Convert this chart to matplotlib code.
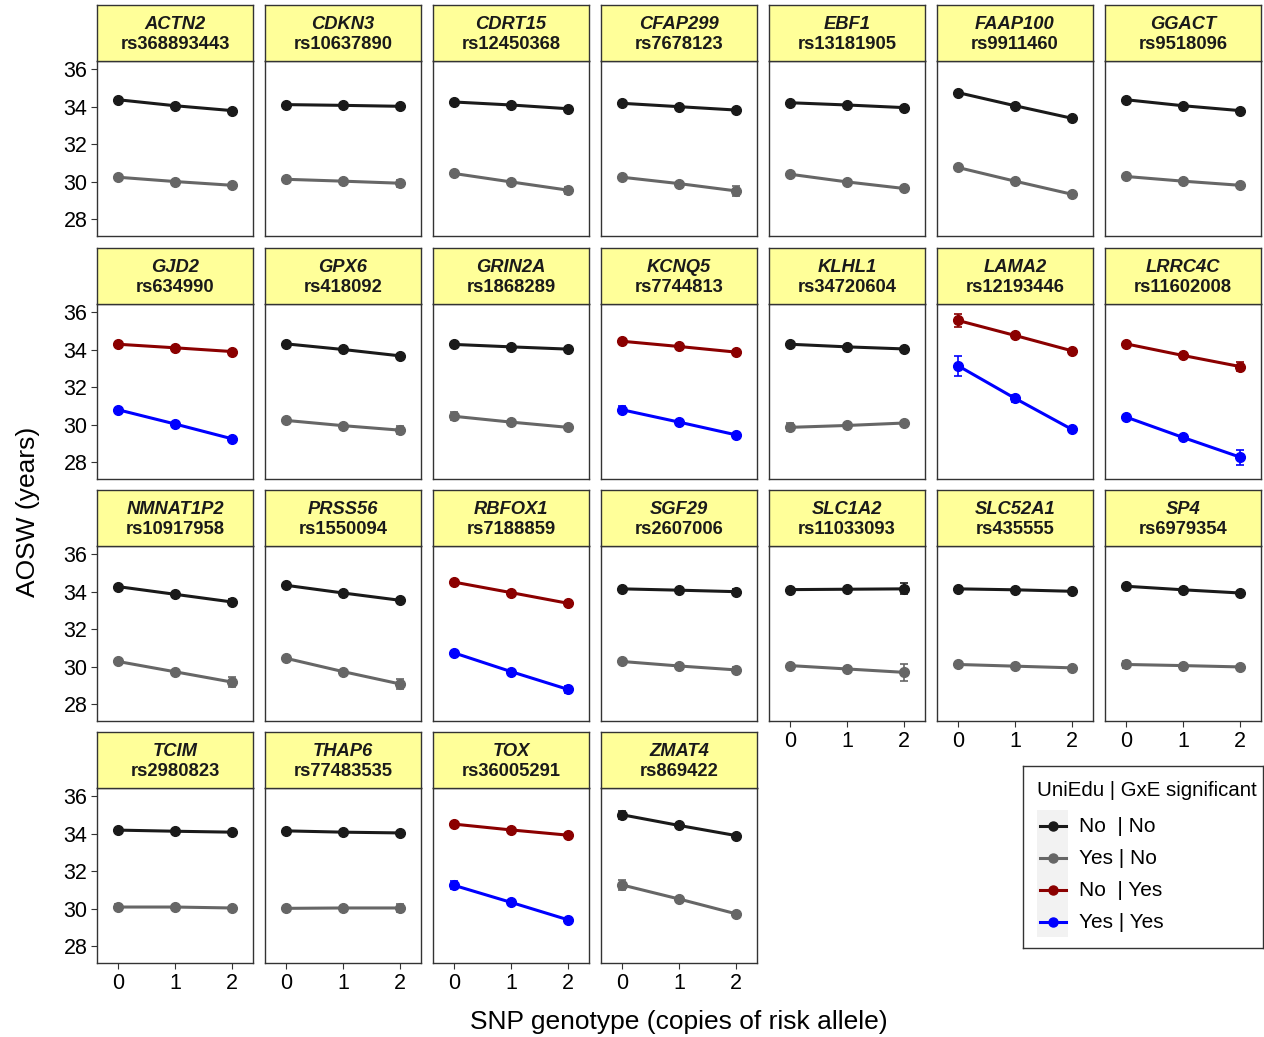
import matplotlib
matplotlib.use("Agg")
from matplotlib import pyplot as plt
from matplotlib.patches import Rectangle

plt.rcParams['font.family'] = ['Liberation Sans', 'DejaVu Sans']

genes = ['ACTN2', 'CDKN3', 'CDRT15', 'CFAP299', 'EBF1', 'FAAP100', 'GGACT',
         'GJD2', 'GPX6', 'GRIN2A', 'KCNQ5', 'KLHL1', 'LAMA2', 'LRRC4C',
         'NMNAT1P2', 'PRSS56', 'RBFOX1', 'SGF29', 'SLC1A2', 'SLC52A1', 'SP4',
         'TCIM', 'THAP6', 'TOX', 'ZMAT4']
rsids = ['rs368893443', 'rs10637890', 'rs12450368', 'rs7678123', 'rs13181905', 'rs9911460', 'rs9518096',
         'rs634990', 'rs418092', 'rs1868289', 'rs7744813', 'rs34720604', 'rs12193446', 'rs11602008',
         'rs10917958', 'rs1550094', 'rs7188859', 'rs2607006', 'rs11033093', 'rs435555', 'rs6979354',
         'rs2980823', 'rs77483535', 'rs36005291', 'rs869422']
# GxE significant?
gxe_sig = [False, False, False, False, False, False, False,
           True, False, False, True, False, True, True,
           False, False, True, False, False, False, False,
           False, False, True, False]

genotype = [0, 1, 2]

# UniEdu = No
no_mean = [[34.38, 34.06, 33.80], [34.12, 34.08, 34.03], [34.26, 34.10, 33.90], [34.19, 34.01, 33.83],
           [34.22, 34.10, 33.96], [34.76, 34.06, 33.39], [34.38, 34.06, 33.80],
           [34.30, 34.11, 33.91], [34.32, 34.02, 33.68], [34.29, 34.16, 34.04], [34.46, 34.18, 33.88],
           [34.30, 34.16, 34.05], [35.57, 34.77, 33.95], [34.32, 33.70, 33.11],
           [34.28, 33.87, 33.46], [34.35, 33.94, 33.55], [34.52, 33.96, 33.39], [34.16, 34.09, 34.01],
           [34.12, 34.14, 34.16], [34.16, 34.11, 34.03], [34.30, 34.11, 33.94],
           [34.20, 34.14, 34.09], [34.16, 34.09, 34.05], [34.52, 34.21, 33.93], [35.02, 34.45, 33.91]]
no_err = [[0.08, 0.05, 0.10], [0.06, 0.05, 0.10], [0.07, 0.05, 0.10], [0.07, 0.05, 0.12],
          [0.07, 0.05, 0.10], [0.08, 0.05, 0.10], [0.07, 0.05, 0.10],
          [0.07, 0.05, 0.10], [0.07, 0.05, 0.12], [0.10, 0.05, 0.10], [0.12, 0.05, 0.10],
          [0.12, 0.05, 0.08], [0.35, 0.15, 0.10], [0.07, 0.08, 0.22],
          [0.08, 0.07, 0.15], [0.08, 0.07, 0.12], [0.07, 0.07, 0.12], [0.07, 0.05, 0.12],
          [0.07, 0.05, 0.30], [0.12, 0.05, 0.10], [0.10, 0.05, 0.08],
          [0.12, 0.05, 0.07], [0.08, 0.05, 0.12], [0.10, 0.07, 0.08], [0.20, 0.07, 0.07]]

# UniEdu = Yes
yes_mean = [[30.24, 30.01, 29.81], [30.13, 30.03, 29.92], [30.44, 29.99, 29.55], [30.24, 29.90, 29.51],
            [30.40, 29.99, 29.64], [30.76, 30.03, 29.33], [30.28, 30.03, 29.81],
            [30.80, 30.04, 29.25], [30.23, 29.95, 29.71], [30.45, 30.14, 29.86], [30.80, 30.14, 29.46],
            [29.86, 29.96, 30.09], [33.15, 31.41, 29.75], [30.41, 29.32, 28.27],
            [30.28, 29.73, 29.18], [30.45, 29.74, 29.08], [30.74, 29.74, 28.79], [30.28, 30.04, 29.83],
            [30.06, 29.88, 29.70], [30.12, 30.03, 29.94], [30.12, 30.06, 29.99],
            [30.09, 30.09, 30.04], [30.02, 30.04, 30.04], [31.25, 30.34, 29.41], [31.27, 30.52, 29.73]]
yes_err = [[0.10, 0.05, 0.12], [0.10, 0.05, 0.18], [0.12, 0.06, 0.18], [0.10, 0.06, 0.25],
           [0.12, 0.06, 0.12], [0.10, 0.06, 0.12], [0.10, 0.06, 0.10],
           [0.12, 0.06, 0.12], [0.08, 0.06, 0.22], [0.22, 0.06, 0.10], [0.20, 0.06, 0.12],
           [0.22, 0.06, 0.10], [0.54, 0.20, 0.10], [0.08, 0.10, 0.40],
           [0.10, 0.07, 0.25], [0.08, 0.07, 0.25], [0.10, 0.07, 0.18], [0.10, 0.06, 0.16],
           [0.10, 0.12, 0.45], [0.14, 0.06, 0.10], [0.18, 0.06, 0.12],
           [0.18, 0.06, 0.10], [0.10, 0.06, 0.22], [0.22, 0.07, 0.12], [0.25, 0.10, 0.08]]

group_labels = ['No  | No', 'Yes | No', 'No  | Yes', 'Yes | Yes']
group_colors = ['#1a1a1a', '#666666', '#8b0000', '#0000ff']

W, H = 1264, 1037
fig = plt.figure(figsize=(W / 100, H / 100), dpi=100)

col_left = [97 + c * 168 for c in range(7)]
strip_top = [5, 248, 490, 732]
pw, sh, ph = 156, 56, 175
n = len(genes)


def rect(x, y, w, h):
    return [x / W, 1 - (y + h) / H, w / W, h / H]


for i in range(n):
    r, c = divmod(i, 7)
    x0, y0 = col_left[c], strip_top[r]
    ax = fig.add_axes(rect(x0, y0 + sh, pw, ph))

    if gxe_sig[i]:
        c_no, c_yes = group_colors[2], group_colors[3]
    else:
        c_no, c_yes = group_colors[0], group_colors[1]

    for m, e, col in [(no_mean[i], no_err[i], c_no), (yes_mean[i], yes_err[i], c_yes)]:
        ax.errorbar(genotype, m, yerr=e, color=col, lw=2.2, marker='o', ms=7,
                    capsize=3, capthick=1.2, elinewidth=1.2)

    ax.set_xlim(-0.37, 2.37)
    ax.set_ylim(27.1, 36.45)
    ax.set_yticks([28, 30, 32, 34, 36])
    ax.set_xticks(genotype)
    for s in ax.spines.values():
        s.set_color('#333333')
        s.set_linewidth(1.0)
    ax.tick_params(colors='#333333', labelcolor='black', length=4, width=0.8,
                   labelsize=15.5, pad=3)
    if c != 0:
        ax.tick_params(axis='y', left=False, labelleft=False)
    # bottom panel of each column
    if i + 7 < n:
        ax.tick_params(axis='x', bottom=False, labelbottom=False)

    sax = fig.add_axes(rect(x0, y0, pw, sh))
    sax.set_facecolor('#ffff99')
    sax.set_xticks([])
    sax.set_yticks([])
    for s in sax.spines.values():
        s.set_color('#333333')
        s.set_linewidth(1.0)
    sax.text(0.5, 0.65, genes[i], transform=sax.transAxes, ha='center', va='center',
             fontsize=13.2, fontweight='bold', fontstyle='italic', color='#1a1a1a')
    sax.text(0.5, 0.29, rsids[i], transform=sax.transAxes, ha='center', va='center',
             fontsize=13.2, fontweight='bold', color='#1a1a1a')

fig.text(28 / W, 1 - 512 / H, 'AOSW (years)', rotation=90, ha='center', va='center', fontsize=19)
fig.text(679 / W, 1 - 1022 / H, 'SNP genotype (copies of risk allele)', ha='center', va='center',
         fontsize=19)

# legend, laid out in pixel units of its own box
lax = fig.add_axes(rect(1023, 766, 240, 182))
lax.set_xlim(0, 240)
lax.set_ylim(182, 0)
lax.set_xticks([])
lax.set_yticks([])
for s in lax.spines.values():
    s.set_color('#333333')
    s.set_linewidth(1.0)
lax.text(14, 24, 'UniEdu | GxE significant', ha='left', va='center', fontsize=14.7)
lax.add_patch(Rectangle((14, 44), 31, 127, facecolor='#f2f2f2', edgecolor='none'))
for k, (lab, col) in enumerate(zip(group_labels, group_colors)):
    yk = 60 + 32 * k
    lax.plot([17, 43], [yk, yk], color=col, lw=2.2)
    lax.plot([30], [yk], 'o', color=col, ms=6.5)
    lax.text(56, yk, lab, ha='left', va='center', fontsize=15)

fig.savefig('out.png', dpi=100, facecolor='white')
